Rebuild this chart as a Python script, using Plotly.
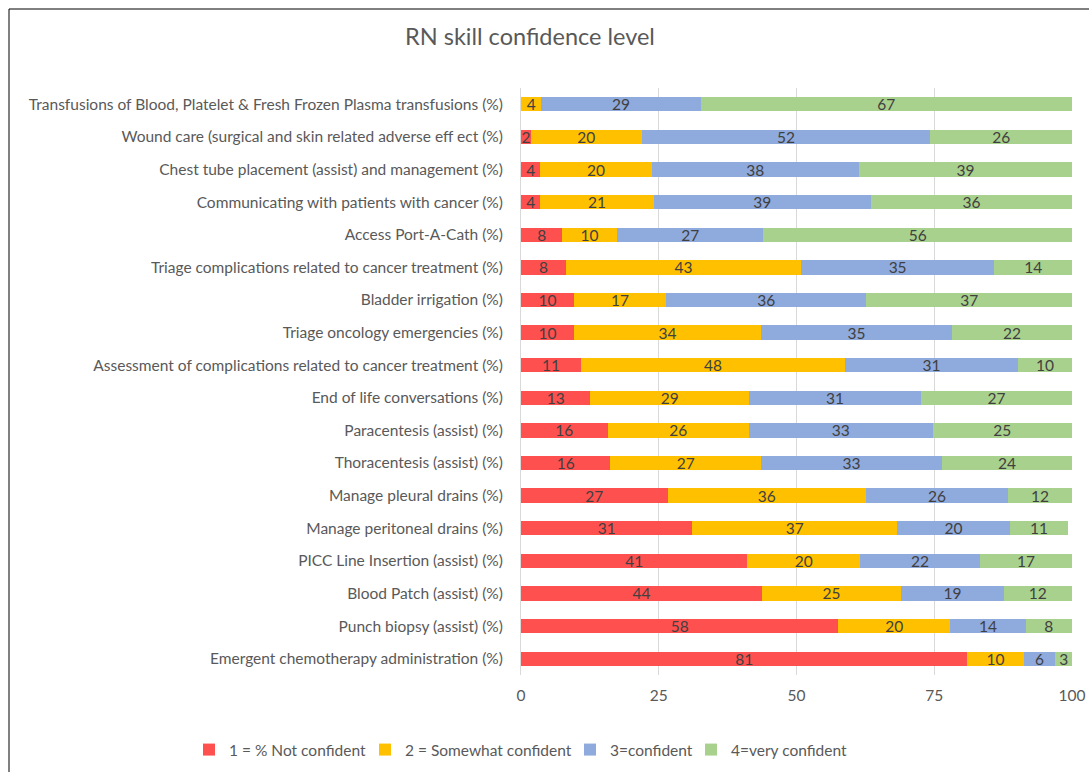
import plotly.graph_objects as go

# Skills, listed top to bottom
skills = [
    "Transfusions of Blood, Platelet & Fresh Frozen Plasma transfusions (%)",
    "Wound care (surgical and skin related adverse eff ect (%)",
    "Chest tube placement (assist) and management (%)",
    "Communicating with patients with cancer (%)",
    "Access Port-A-Cath (%)",
    "Triage complications related to cancer treatment (%)",
    "Bladder irrigation (%)",
    "Triage oncology emergencies (%)",
    "Assessment of complications related to cancer treatment (%)",
    "End of life conversations (%)",
    "Paracentesis (assist) (%)",
    "Thoracentesis (assist) (%)",
    "Manage pleural drains (%)",
    "Manage peritoneal drains (%)",
    "PICC Line Insertion (assist) (%)",
    "Blood Patch (assist) (%)",
    "Punch biopsy (assist) (%)",
    "Emergent chemotherapy administration (%)",
]

not_confident = [0, 1.8, 3.5, 3.5, 7.5, 8.2, 9.6, 9.6, 10.9, 12.6, 15.7, 16.2,
                 26.6, 31.1, 41.1, 43.7, 57.6, 81.0]
somewhat_confident = [3.7, 20.1, 20.2, 20.6, 9.9, 42.6, 16.7, 34.0, 47.9, 28.8, 25.7, 27.4,
                      36.0, 37.2, 20.4, 25.3, 20.3, 10.2]
confident = [28.9, 52.4, 37.6, 39.4, 26.6, 35.1, 36.4, 34.6, 31.4, 31.2, 33.3, 32.8,
             25.8, 20.4, 21.8, 18.6, 13.7, 5.8]
very_confident = [67.4, 25.7, 38.7, 36.5, 56.0, 14.1, 37.3, 21.8, 9.8, 27.4, 25.3, 23.6,
                  11.6, 10.6, 16.7, 12.4, 8.4, 3.0]

series_names = ["1 = % Not confident", "2 = Somewhat confident", "3=confident", "4=very confident"]
series_values = [not_confident, somewhat_confident, confident, very_confident]
series_colors = ["#FF5050", "#FFC000", "#8FAADC", "#A9D18E"]

x_ticks = [0, 25, 50, 75, 100]

FONT = "Lato"
GREY = "#595959"
SIZE = 15.5

W, H = 1089, 772
ML, MR, MT, MB = 521, 17, 88, 97
pw, ph = W - ML - MR, H - MT - MB

# one legend box per series, laid out in a single row under the chart
legend_ids = ["legend", "legend2", "legend3", "legend4"]
legend_text_x = [229, 405, 610, 731]

fig = go.Figure()
for name, vals, color, lid in zip(series_names, series_values, series_colors, legend_ids):
    fig.add_trace(go.Bar(
        y=skills,
        x=vals,
        name=name,
        orientation="h",
        legend=lid,
        marker=dict(color=color, line=dict(width=0)),
        text=[f"{v:.0f}" if v > 0 else "" for v in vals],
        texttemplate="%{text}",
        textposition="inside",
        insidetextanchor="middle",
        textangle=0,
        constraintext="none",
        textfont=dict(family=FONT, size=SIZE, color="#404040"),
        hoverinfo="skip",
    ))


def px_to_paper_x(px):
    return (px - ML) / pw


def px_to_paper_y(py):
    return (H - MB - py) / ph


legends = {}
for lid, tx in zip(legend_ids, legend_text_x):
    legends[lid] = dict(
        orientation="h",
        x=(tx - 40) / W, xanchor="left", xref="container",
        y=1 - 750 / H, yanchor="middle", yref="container",
        font=dict(family=FONT, size=SIZE, color=GREY),
        itemwidth=30,
        borderwidth=0,
        bgcolor="rgba(0,0,0,0)",
    )

fig.update_layout(
    width=W,
    height=H,
    margin=dict(l=ML, r=MR, t=MT, b=MB, autoexpand=False),
    barmode="stack",
    bargap=0.56,
    paper_bgcolor="white",
    plot_bgcolor="white",
    font=dict(family=FONT, size=SIZE, color=GREY),
    title=dict(
        text="RN skill confidence level",
        x=530 / W, xanchor="center", xref="container",
        y=1 - 37 / H, yanchor="middle", yref="container",
        font=dict(family=FONT, size=23.5, color=GREY),
    ),
    xaxis=dict(
        range=[0, 100],
        tickvals=x_ticks,
        showgrid=True,
        gridcolor="#D9D9D9",
        gridwidth=1,
        zeroline=False,
        showline=False,
        ticks="",
        ticklabelstandoff=9,
        tickfont=dict(family=FONT, size=SIZE, color=GREY),
        fixedrange=True,
    ),
    yaxis=dict(
        categoryorder="array",
        categoryarray=skills,
        autorange="reversed",
        showline=True,
        linecolor="#D9D9D9",
        linewidth=1,
        showgrid=False,
        ticks="",
        ticklabelstandoff=14,
        tickfont=dict(family=FONT, size=SIZE, color=GREY),
        fixedrange=True,
    ),
    showlegend=True,
    **legends,
)

# Chart frame: top and left edges
frame_left = px_to_paper_x(9)
frame_top = px_to_paper_y(9)
fig.add_shape(type="line", xref="paper", yref="paper",
              x0=frame_left, x1=px_to_paper_x(W + 10), y0=frame_top, y1=frame_top,
              line=dict(color="black", width=1))
fig.add_shape(type="line", xref="paper", yref="paper",
              x0=frame_left, x1=frame_left, y0=frame_top, y1=px_to_paper_y(H + 10),
              line=dict(color="black", width=1))

fig.write_html("out.html")
